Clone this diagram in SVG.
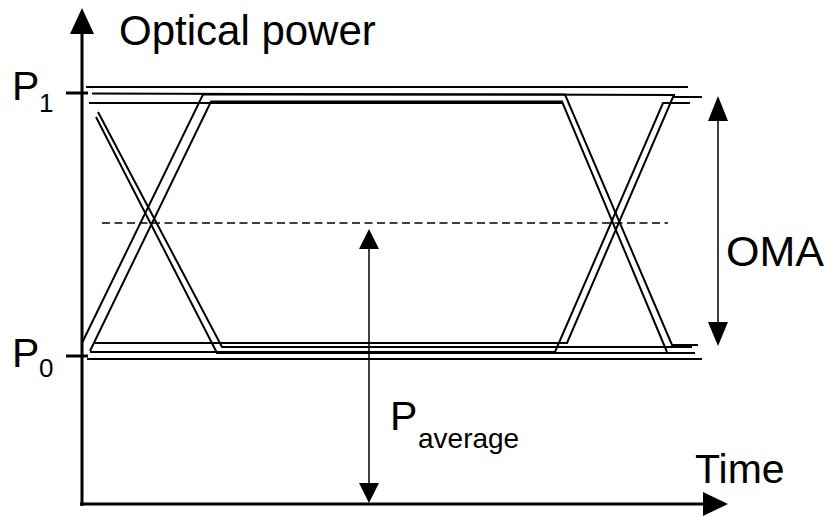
<svg xmlns="http://www.w3.org/2000/svg" width="829" height="517" viewBox="0 0 829 517">
<style>
.axis{stroke:#000;stroke-width:3;fill:none}
.trace{stroke:#000;stroke-width:2;fill:none;stroke-linejoin:miter}
.thin{stroke:#000;stroke-width:1.5;fill:none}
.dash{stroke:#000;stroke-width:1.6;fill:none;stroke-dasharray:8 4.5}
.head{fill:#000;stroke:none}
text{font-family:"Liberation Sans",Arial,sans-serif;fill:#000}
.lbl{font-size:41px}
.sub{font-size:26px}
</style>
<rect width="829" height="517" fill="#fff"/>
<g id="axes">
  <line class="axis" x1="82" y1="506" x2="82" y2="30"/>
  <polygon class="head" points="82,8 70,34 94,34"/>
  <line class="axis" x1="80" y1="504" x2="705" y2="504"/>
  <polygon class="head" points="728,504 703,492 703,516"/>
  <line class="axis" x1="66" y1="93" x2="88" y2="93"/>
  <line class="axis" x1="66" y1="356" x2="88" y2="356"/>
</g>
<g id="eye">
  <path class="trace" d="M86,87 H688"/>
  <path class="trace" d="M92,93.5 L675,95"/>
  <path class="trace" d="M89,103 H562"/>
  <path class="trace" d="M82,343 L203,94.5 H565 L672,345 H698"/>
  <path class="trace" d="M90,351 L211,101.5 H562 L667,352"/>
  <path class="trace" d="M98,112 L222,347 H692"/>
  <path class="trace" d="M96,117 L217,353 H695"/>
  <path class="trace" d="M95,343 H567 L673,97 H702"/>
  <path class="trace" d="M90,352 H555 L663,103 H690"/>
  <path class="trace" d="M87,359 H702"/>
</g>
<g id="average-line">
  <line class="dash" x1="102" y1="223" x2="668" y2="223"/>
</g>
<g id="connectors">
  <line class="thin" x1="718" y1="118" x2="718" y2="326"/>
  <polygon class="head" points="718,96 708,121 728,121"/>
  <polygon class="head" points="718,346 708,322 728,322"/>
  <line class="thin" x1="369" y1="246" x2="369" y2="486"/>
  <polygon class="head" points="369,229 359,249 379,249"/>
  <polygon class="head" points="369,503 359,483 379,483"/>
</g>
<g id="labels">
  <text class="lbl" x="119" y="45" style="font-size:42px">Optical power</text>
  <text class="lbl" x="695" y="483">Time</text>
  <text class="lbl" x="726" y="266" style="font-size:43px">OMA</text>
  <text class="lbl" x="12" y="100">P</text>
  <text class="sub" x="39" y="112">1</text>
  <text class="lbl" x="12" y="367">P</text>
  <text class="sub" x="39" y="377">0</text>
  <text class="lbl" x="390" y="430">P</text>
  <text class="sub" x="418" y="448" style="font-size:28px">average</text>
</g>
</svg>
